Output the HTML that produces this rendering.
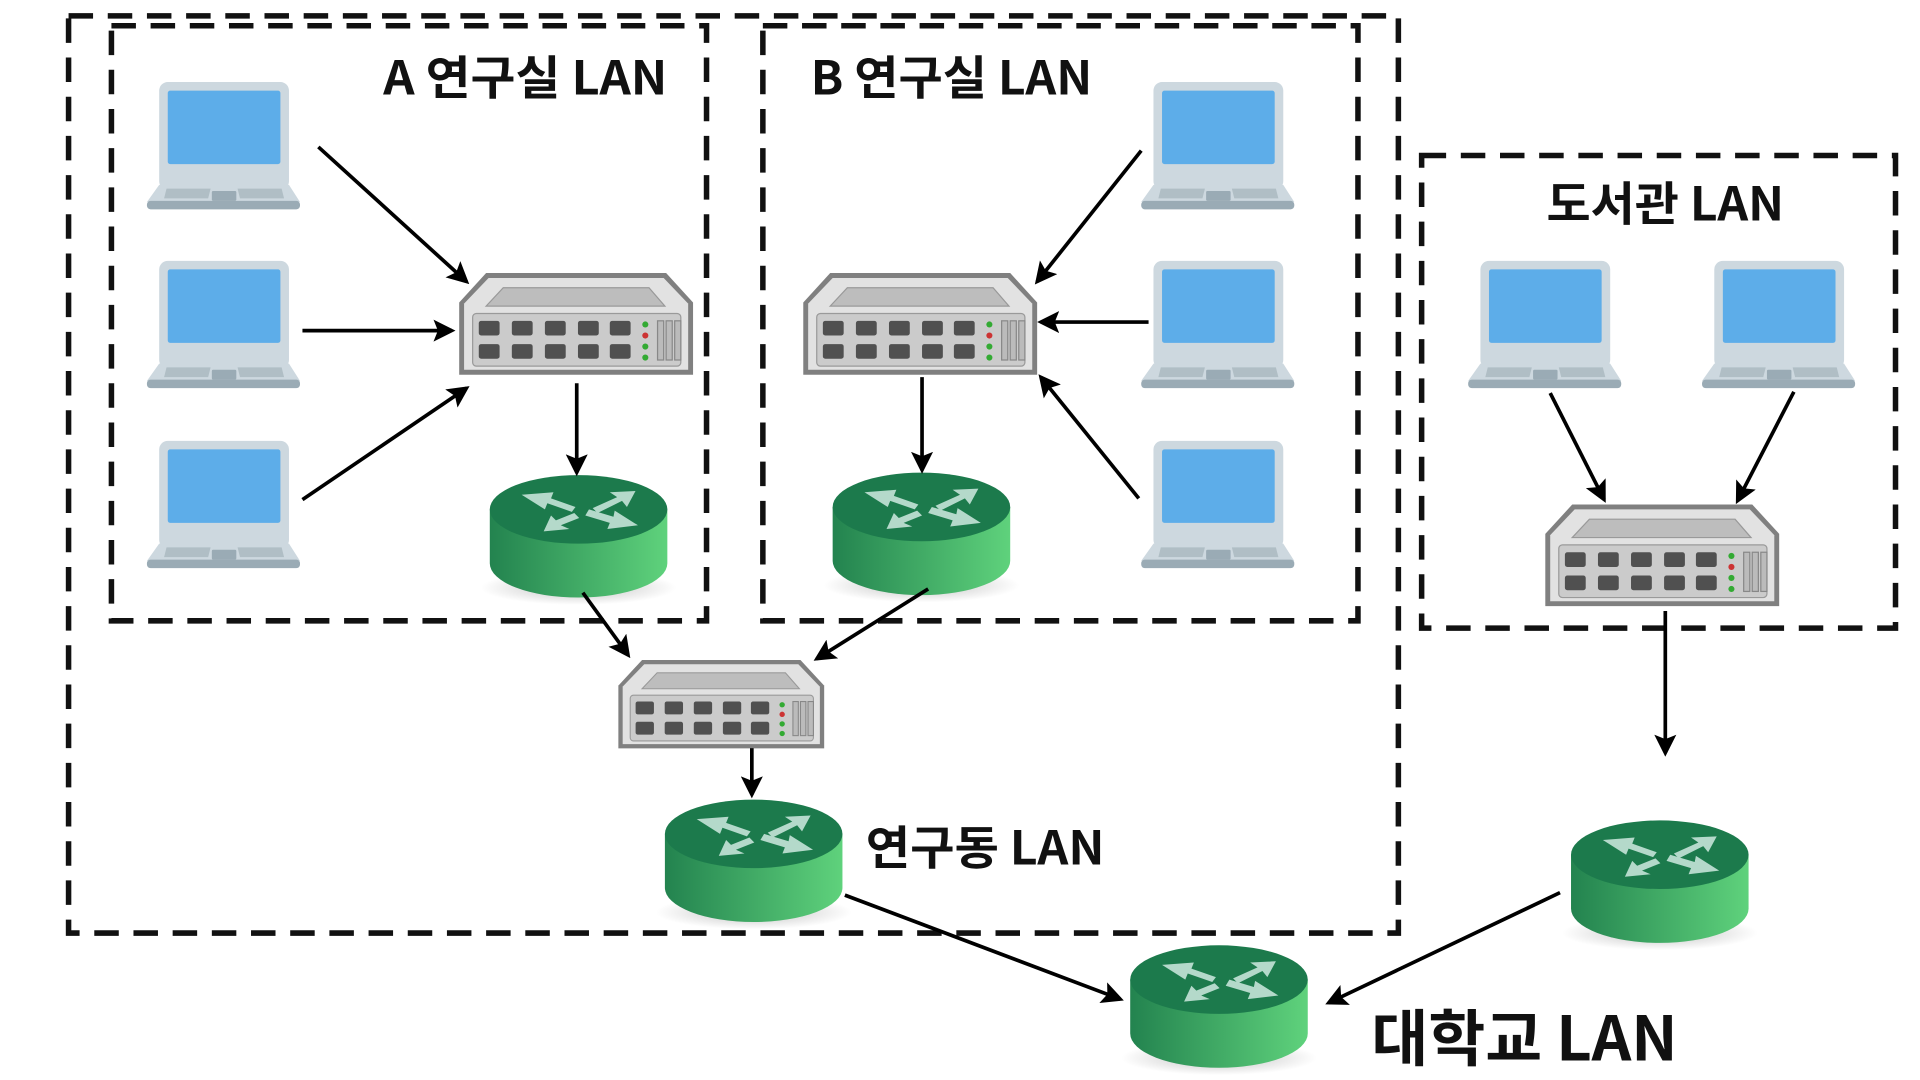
<!DOCTYPE html>
<html><head><meta charset="utf-8"><style>
html,body{margin:0;padding:0;background:#fff;width:1920px;height:1080px;overflow:hidden}
svg{display:block}
text{font-family:"Noto Sans CJK KR","Liberation Sans",sans-serif;font-weight:bold;fill:#111}
</style></head><body>
<svg width="1920" height="1080" viewBox="0 0 1568 882" xmlns="http://www.w3.org/2000/svg">
<defs>
<marker id="ah" markerWidth="6" markerHeight="6" refX="5" refY="3" orient="auto" markerUnits="strokeWidth">
<path d="M0,0 L6,3 L0,6 L1.2,3 z" fill="#000"/></marker>
<linearGradient id="rg" x1="0" x2="1" y1="0" y2="0"><stop offset="0" stop-color="#23834f"/><stop offset="1" stop-color="#5fd27c"/></linearGradient>
<radialGradient id="sh" cx="0.5" cy="0.5" r="0.5"><stop offset="0" stop-color="#000" stop-opacity="0.25"/><stop offset="1" stop-color="#000" stop-opacity="0"/></radialGradient>
<g id="laptop">
<rect x="10" y="0" width="106" height="88" rx="7" fill="#cdd8df"/>
<rect x="17" y="7" width="92" height="60" rx="2" fill="#5dade9"/>
<polygon points="10,84 116,84 125,98 0,98" fill="#cdd8df"/>
<polygon points="16,87 52,87 50,95 14,95" fill="#b0bec5"/>
<polygon points="74,87 110,87 112,95 76,95" fill="#b0bec5"/>
<rect x="53" y="89" width="20" height="8" rx="1" fill="#9aabb5"/>
<rect x="0" y="97" width="125" height="7" rx="3" fill="#9aabb5"/>
</g>
<g id="switch">
<polygon points="0,24 22,0 169,0 191,24 191,83 0,83" fill="#808080"/>
<polygon points="4,25 24,4 167,4 187,25 187,79 4,79" fill="#e2e2e2"/>
<polygon points="22,27 36,12 155,12 168,27" fill="#bdbdbd" stroke="#999" stroke-width="1"/>
<rect x="11" y="33" width="170" height="43" rx="3" fill="#cbcbcb" stroke="#9a9a9a" stroke-width="1"/>
<g fill="#505050">
<rect x="16" y="39" width="17" height="12" rx="2"/><rect x="43" y="39" width="17" height="12" rx="2"/><rect x="70" y="39" width="17" height="12" rx="2"/><rect x="97" y="39" width="17" height="12" rx="2"/><rect x="123" y="39" width="17" height="12" rx="2"/>
<rect x="16" y="58" width="17" height="12" rx="2"/><rect x="43" y="58" width="17" height="12" rx="2"/><rect x="70" y="58" width="17" height="12" rx="2"/><rect x="97" y="58" width="17" height="12" rx="2"/><rect x="123" y="58" width="17" height="12" rx="2"/>
</g>
<circle cx="152" cy="42" r="2.5" fill="#3a3"/><circle cx="152" cy="51" r="2.5" fill="#c33"/><circle cx="152" cy="60" r="2.5" fill="#3a3"/><circle cx="152" cy="69" r="2.5" fill="#3a3"/>
<g fill="#bbb" stroke="#888" stroke-width="1"><rect x="162" y="39" width="5" height="32"/><rect x="169" y="39" width="5" height="32"/><rect x="176" y="39" width="5" height="32"/></g>
</g>
<g id="router">
<ellipse cx="72.5" cy="92" rx="80" ry="14" fill="url(#sh)"/>
<path d="M0,28 L0,72 A72.5,28 0 0 0 145,72 L145,28 Z" fill="url(#rg)"/>
<ellipse cx="72.5" cy="28" rx="72.5" ry="28" fill="#1c7a4c"/>
<g fill="#b4d9ca">
<polygon points="26,16 52,14 50,19 70,26 67,30 47,23 45,28"/>
<polygon points="119,13 112,26 108,21 88,31 84,27 104,18 98,14"/>
<polygon points="44,46 50,33 54,37 69,31 73,35 58,41 65,44"/>
<polygon points="121,41 96,44 98,39 78,33 81,28 101,34 102,29"/>
</g>
</g>
</defs>

<g fill="none" stroke="#111" stroke-width="4.5" stroke-dasharray="20 12">
<rect x="56" y="13" width="1086" height="749"/>
<rect x="91" y="21" width="486" height="486"/>
<rect x="623" y="21" width="486" height="486"/>
<rect x="1161" y="127" width="387" height="386"/>
</g>

<use href="#laptop" x="120" y="67"/><use href="#laptop" x="120" y="213"/><use href="#laptop" x="120" y="360"/>
<use href="#laptop" x="932" y="67"/><use href="#laptop" x="932" y="213"/><use href="#laptop" x="932" y="360"/>
<use href="#laptop" x="1199" y="213"/><use href="#laptop" x="1390" y="213"/>

<use href="#switch" x="375" y="223"/>
<use href="#switch" x="656" y="223"/>
<use href="#switch" transform="translate(505,539) scale(0.88,0.87)"/>
<use href="#switch" x="1262" y="412"/>

<use href="#router" x="400" y="388"/>
<use href="#router" x="680" y="386"/>
<use href="#router" x="543" y="653"/>
<use href="#router" x="1283" y="670"/>
<use href="#router" x="923" y="772"/>

<g stroke="#000" stroke-width="3" marker-end="url(#ah)" fill="none">
<line x1="260" y1="120" x2="381" y2="230"/>
<line x1="247" y1="270" x2="369" y2="270"/>
<line x1="247" y1="408" x2="381" y2="317"/>
<line x1="471" y1="313" x2="471" y2="386"/>
<line x1="932" y1="123" x2="847" y2="230"/>
<line x1="938" y1="263" x2="850" y2="263"/>
<line x1="930" y1="407" x2="850" y2="308"/>
<line x1="753" y1="308" x2="753" y2="384"/>
<line x1="476" y1="484" x2="513" y2="535"/>
<line x1="758" y1="481" x2="667" y2="538"/>
<line x1="614" y1="611" x2="614" y2="649"/>
<line x1="1360" y1="499" x2="1360" y2="615"/>
<line x1="1266" y1="321" x2="1310" y2="408"/>
<line x1="1465" y1="320" x2="1419" y2="409"/>
<line x1="690" y1="731" x2="915" y2="816"/>
<line x1="1274" y1="729" x2="1085" y2="819"/>
</g>

<text x="313" y="77" font-size="38" textLength="232" lengthAdjust="spacingAndGlyphs">A 연구실 LAN</text>
<text x="662" y="77" font-size="38" textLength="230" lengthAdjust="spacingAndGlyphs">B 연구실 LAN</text>
<text x="1263" y="180" font-size="38" textLength="194" lengthAdjust="spacingAndGlyphs">도서관 LAN</text>
<text x="707" y="706" font-size="38" textLength="195" lengthAdjust="spacingAndGlyphs">연구동 LAN</text>
<text x="1120" y="866" font-size="50" textLength="250" lengthAdjust="spacingAndGlyphs">대학교 LAN</text>
</svg>
</body></html>
